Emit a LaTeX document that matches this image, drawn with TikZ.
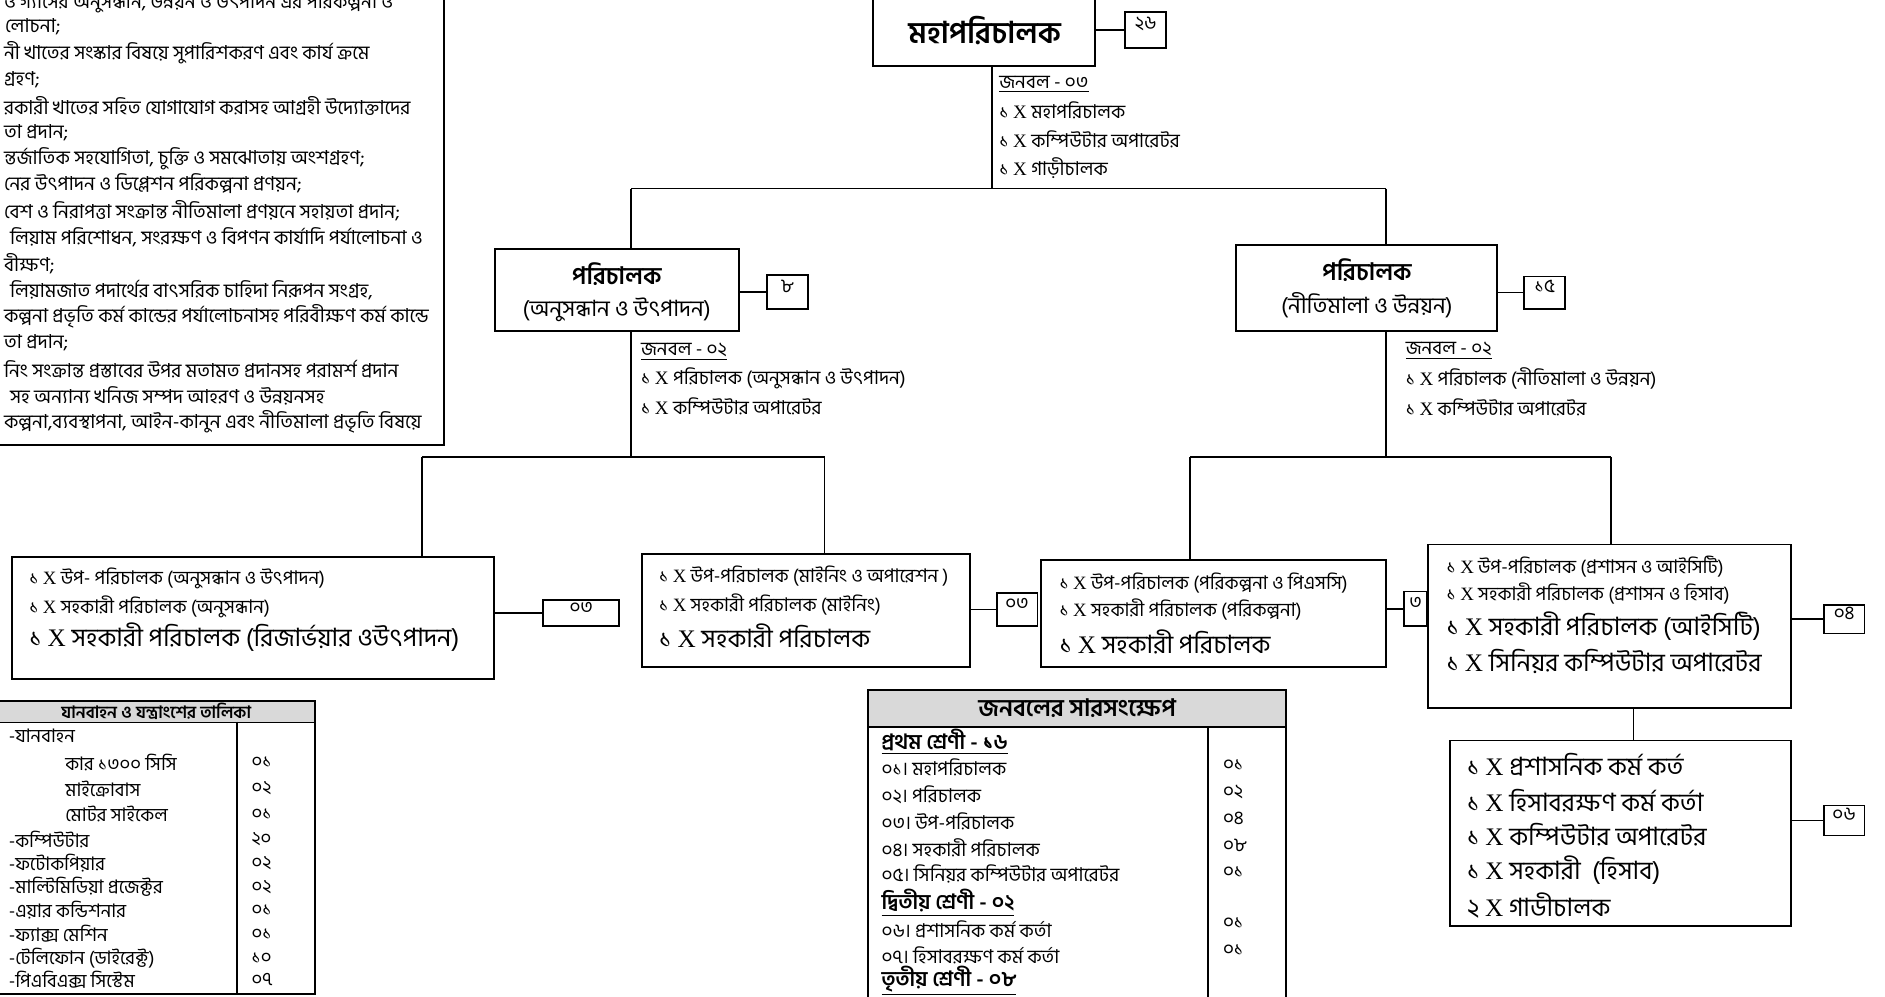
\documentclass[tikz,border=0pt]{standalone}
\usepackage{fontspec}
\setmainfont[Script=Bengali]{Hind Siliguri}
\newfontfamily\lat{Liberation Serif}
\usetikzlibrary{fit}
\newcommand\XX{{\lat X}}
\newcommand\fA{\fontsize{9.6}{12}\selectfont}
\newcommand\fJ{\fontsize{9.5}{11}\selectfont}
\newcommand\fS{\fontsize{9.4}{11}\selectfont}
\newcommand\fL{\fontsize{12.6}{14}\selectfont}
\newcommand\fT{\fontsize{9.3}{10}\selectfont}
\tikzset{
  box/.style={draw, line width=0.9pt, inner sep=0pt},
  ln/.style={line width=0.7pt},
  tl/.style={anchor=west, inner sep=0pt},
  tc/.style={anchor=center, inner sep=0pt},
}
\begin{document}
\begin{tikzpicture}[x=0.6pt,y=-0.6pt]
\useasboundingbox (0,0) rectangle (1568,829);
\clip (0,0) rectangle (1568,829);

% ---------- top-left functions box ----------
\node[box, fit={(-10,-10)(369,370)}] (fn) {};
\node[tl, font=\fA] (f1) at (3,2) {ও গ্যাসের অনুসন্ধান, উন্নয়ন ও উৎপাদন এর পরিকল্পনা ও};
\node[tl, font=\fA] (f2) at (4,22) {লোচনা;};
\node[tl, font=\fA] (f3) at (3,44) {নী খাতের সংস্কার বিষয়ে সুপারিশকরণ এবং কার্য ক্রমে};
\node[tl, font=\fA] (f4) at (3,66) {গ্রহণ;};
\node[tl, font=\fA] (f5) at (3,88) {রকারী খাতের সহিত যোগাযোগ করাসহ আগ্রহী উদ্যোক্তাদের};
\node[tl, font=\fA] (f6) at (3,110) {তা প্রদান;};
\node[tl, font=\fA] (f7) at (3,132) {ন্তর্জাতিক সহযোগিতা, চুক্তি ও সমঝোতায় অংশগ্রহণ;};
\node[tl, font=\fA] (f8) at (3,153) {নের উৎপাদন ও ডিপ্লেশন পরিকল্পনা প্রণয়ন;};
\node[tl, font=\fA] (f9) at (3,175) {বেশ ও নিরাপত্তা সংক্রান্ত নীতিমালা প্রণয়নে সহায়তা প্রদান;};
\node[tl, font=\fA] (f10) at (8,197) {লিয়াম পরিশোধন, সংরক্ষণ ও বিপণন কার্যাদি পর্যালোচনা ও};
\node[tl, font=\fA] (f11) at (3,219) {বীক্ষণ;};
\node[tl, font=\fA] (f12) at (8,241) {লিয়ামজাত পদার্থের বাৎসরিক চাহিদা নিরূপন সংগ্রহ,};
\node[tl, font=\fA] (f13) at (3,263) {কল্পনা প্রভৃতি কর্ম কান্ডের পর্যালোচনাসহ পরিবীক্ষণ কর্ম কান্ডে};
\node[tl, font=\fA] (f14) at (3,285) {তা প্রদান;};
\node[tl, font=\fA] (f15) at (3,307) {নিং সংক্রান্ত প্রস্তাবের উপর মতামত প্রদানসহ পরামর্শ প্রদান};
\node[tl, font=\fA] (f16) at (8,329) {সহ অন্যান্য খনিজ সম্পদ আহরণ ও উন্নয়নসহ};
\node[tl, font=\fA] (f17) at (3,351) {কল্পনা,ব্যবস্থাপনা, আইন-কানুন এবং নীতিমালা প্রভৃতি বিষয়ে};

% ---------- Director General ----------
\node[box, fit={(726,-3)(911,55)}] (dg) {};
\node[tc, font=\fontsize{15}{17}\selectfont\bfseries] (dgt) at (819,25) {মহাপরিচালক};
\node[box, fit={(936,10)(970,40)}, font=\fJ] (c26) {২৬};
\draw[ln] (c26.west) -- (c26.west -| dg.east);
\node[tl, font=\fJ] (j01) at (831,70) {\underline{জনবল - ০৩}};
\node[tl, font=\fJ] (j02) at (831,92) {১ \XX\ মহাপরিচালক};
\node[tl, font=\fJ] (j03) at (831,116) {১ \XX\ কম্পিউটার অপারেটর};
\node[tl, font=\fJ] (j04) at (831,140) {১ \XX\ গাড়ীচালক};

% ---------- Directors ----------
\node[box, fit={(412,207)(615,275)}] (d1) {};
\node[tc, font=\fontsize{12}{14}\selectfont\bfseries] (d1a) at (513,228) {পরিচালক};
\node[tc, font=\fontsize{11.2}{13}\selectfont] (d1b) at (513,258) {(অনুসন্ধান ও উৎপাদন)};
\node[box, fit={(638,229)(672,257)}, font=\fJ] (c8) {৮};
\draw[ln] (c8.west) -- (c8.west -| d1.east);
\node[tl, font=\fJ] (j11) at (533,293) {\underline{জনবল - ০২}};
\node[tl, font=\fJ] (j12) at (533,315) {১ \XX\ পরিচালক (অনুসন্ধান ও উৎপাদন)};
\node[tl, font=\fJ] (j13) at (533,338) {১ \XX\ কম্পিউটার অপারেটর};

\node[box, fit={(1028,204)(1245,275)}] (d2) {};
\node[tc, font=\fontsize{12}{14}\selectfont\bfseries] (d2a) at (1137,225) {পরিচালক};
\node[tc, font=\fontsize{11.2}{13}\selectfont] (d2b) at (1137,254) {(নীতিমালা ও উন্নয়ন)};
\node[box, fit={(1268,230)(1302,257)}, font=\fJ] (c15) {১৫};
\draw[ln] (c15.west) -- (c15.west -| d2.east);
\node[tl, font=\fJ] (j21) at (1169,292) {\underline{জনবল - ০২}};
\node[tl, font=\fJ] (j22) at (1169,315) {১ \XX\ পরিচালক (নীতিমালা ও উন্নয়ন)};
\node[tl, font=\fJ] (j23) at (1169,339) {১ \XX\ কম্পিউটার অপারেটর};

% tree from DG
\coordinate (j0) at (825,157);
\coordinate (jL) at (525,157);
\coordinate (jR) at (1153,157);
\draw[ln] (j0 |- dg.south) -- (j0);
\draw[ln] (jL) -- (jR);
\draw[ln] (jL) -- (jL |- d1.north);
\draw[ln] (jR) -- (jR |- d2.north);

% ---------- Bottom boxes ----------
\node[box, fit={(10,463)(411,565)}] (bA) {};
\node[tl, font=\fS] (a1) at (24,481) {১ \XX\ উপ- পরিচালক (অনুসন্ধান ও উৎপাদন)};
\node[tl, font=\fS] (a2) at (24,505) {১ \XX\ সহকারী পরিচালক (অনুসন্ধান)};
\node[tl, font=\fL] (a3) at (24,530) {১ \XX\ সহকারী পরিচালক (রিজার্ভয়ার ওউৎপাদন)};
\node[box, fit={(452,499)(515,521)}, font=\fJ] (cA) {০৩};
\draw[ln] (cA.west) -- (cA.west -| bA.east);

\node[box, fit={(534,461)(807,555)}] (bB) {};
\node[tl, font=\fS] (b1) at (548,479) {১ \XX\ উপ-পরিচালক (মাইনিং ও অপারেশন )};
\node[tl, font=\fS] (b2) at (548,503) {১ \XX\ সহকারী পরিচালক (মাইনিং)};
\node[tl, font=\fL] (b3) at (548,529) {১ \XX\ সহকারী পরিচালক};
\node[box, fit={(829,493)(863,521)}, font=\fJ] (cB) {০৩};
\draw[ln] (cB.west) -- (cB.west -| bB.east);

\node[box, fit={(866,466)(1153,555)}] (bC) {};
\node[tl, font=\fS] (cc1) at (881,485) {১ \XX\ উপ-পরিচালক (পরিকল্পনা ও পিএসসি)};
\node[tl, font=\fS] (cc2) at (881,507) {১ \XX\ সহকারী পরিচালক (পরিকল্পনা)};
\node[tl, font=\fL] (cc3) at (881,534) {১ \XX\ সহকারী পরিচালক};
\node[box, fit={(1168,492)(1187,521)}, font=\fJ] (cC) {৩};
\draw[ln] (cC.west) -- (cC.west -| bC.east);

\node[box, fit={(1188,453)(1490,589)}] (bD) {};
\node[tl, font=\fS] (dd1) at (1203,471) {১ \XX\ উপ-পরিচালক (প্রশাসন ও আইসিটি)};
\node[tl, font=\fS] (dd2) at (1203,494) {১ \XX\ সহকারী পরিচালক (প্রশাসন ও হিসাব)};
\node[tl, font=\fL] (dd3) at (1203,521) {১ \XX\ সহকারী পরিচালক (আইসিটি)};
\node[tl, font=\fL] (dd4) at (1203,550) {১ \XX\ সিনিয়র কম্পিউটার অপারেটর};
\node[box, fit={(1517,503)(1551,527)}, font=\fJ] (cD) {০৪};
\draw[ln] (cD.west) -- (cD.west -| bD.east);

\node[box, fit={(1206,616)(1490,770)}] (bE) {};
\node[tl, font=\fL] (e1) at (1220,636) {১ \XX\ প্রশাসনিক কর্ম কর্ত};
\node[tl, font=\fL] (e2) at (1220,666) {১ \XX\ হিসাবরক্ষণ কর্ম কর্তা};
\node[tl, font=\fL] (e3) at (1220,694) {১ \XX\ কম্পিউটার অপারেটর};
\node[tl, font=\fL] (e4) at (1220,724) {১ \XX\ সহকারী\ \ (হিসাব)};
\node[tl, font=\fL] (e5) at (1220,753) {২ \XX\ গাডীচালক};
\node[box, fit={(1517,670)(1551,695)}, font=\fJ] (cE) {০৬};
\draw[ln] (cE.west) -- (cE.west -| bE.east);

% tree lower left
\coordinate (k1) at (525,380);
\coordinate (kL) at (351,380);
\coordinate (kR) at (686,380);
\draw[ln] (k1 |- d1.south) -- (k1);
\draw[ln] (kL) -- (kR);
\draw[ln] (kL) -- (kL |- bA.north);
\draw[ln] (kR) -- (kR |- bB.north);
% tree lower right
\coordinate (k2) at (1153,380);
\coordinate (mL) at (990,380);
\coordinate (mR) at (1340,380);
\draw[ln] (k2 |- d2.south) -- (k2);
\draw[ln] (mL) -- (mR);
\draw[ln] (mL) -- (mL |- bC.north);
\draw[ln] (mR) -- (mR |- bD.north);
\coordinate (n1) at (1359,600);
\draw[ln] (n1 |- bD.south) -- (n1 |- bE.north);

% ---------- vehicle table ----------
\node[box, fill=black!15, fit={(-5,583)(262,601)}] (vh) {};
\node[tc, font=\fontsize{8.5}{10}\selectfont\bfseries] (vht) at (130,592) {যানবাহন ও যন্ত্রাংশের তালিকা};
\node[box, fit={(-5,601)(262,827)}] (vb) {};
\draw[line width=0.9pt] (197,0 |- vb.north) -- (197,0 |- vb.south);
\node[tl, font=\fT] (v1) at (7,612) {-যানবাহন};
\node[tl, font=\fT] (v2) at (54,634) {কার ১৩০০ সিসি};
\node[tl, font=\fT] (v3) at (54,656) {মাইক্রোবাস};
\node[tl, font=\fT] (v4) at (54,677) {মোটর সাইকেল};
\node[tl, font=\fT] (v5) at (7,698) {-কম্পিউটার};
\node[tl, font=\fT] (v6) at (7,718) {-ফটোকপিয়ার};
\node[tl, font=\fT] (v7) at (7,738) {-মাল্টিমিডিয়া প্রজেক্টর};
\node[tl, font=\fT] (v8) at (7,757) {-এয়ার কন্ডিশনার};
\node[tl, font=\fT] (v9) at (7,777) {-ফ্যাক্স মেশিন};
\node[tl, font=\fT] (v10) at (7,797) {-টেলিফোন (ডাইরেক্ট)};
\node[tl, font=\fT] (v11) at (7,815) {-পিএবিএক্স সিস্টেম};
\node[tl, font=\fT] (w2) at (209,634) {০১};
\node[tl, font=\fT] (w3) at (209,656) {০২};
\node[tl, font=\fT] (w4) at (209,677) {০১};
\node[tl, font=\fT] (w5) at (209,698) {২০};
\node[tl, font=\fT] (w6) at (209,718) {০২};
\node[tl, font=\fT] (w7) at (209,738) {০২};
\node[tl, font=\fT] (w8) at (209,757) {০১};
\node[tl, font=\fT] (w9) at (209,777) {০১};
\node[tl, font=\fT] (w10) at (209,797) {১০};
\node[tl, font=\fT] (w11) at (209,815) {০৭};

% ---------- manpower summary ----------
\node[box, fill=black!15, fit={(722,574)(1070,605)}] (sh) {};
\node[tc, font=\fontsize{12}{14}\selectfont\bfseries] (sht) at (896,589) {জনবলের সারসংক্ষেপ};
\node[box, fit={(722,605)(1070,840)}] (sb) {};
\draw[line width=0.9pt] (1005,0 |- sb.north) -- (1005,0 |- sb.south);
\node[tl, font=\fontsize{10.5}{12}\selectfont\bfseries] (s0) at (733,617) {\underline{প্রথম শ্রেণী - ১৬}};
\node[tl, font=\fJ] (s1) at (733,638) {০১। মহাপরিচালক};
\node[tl, font=\fJ] (s2) at (733,661) {০২। পরিচালক};
\node[tl, font=\fJ] (s3) at (733,683) {০৩। উপ-পরিচালক};
\node[tl, font=\fJ] (s4) at (733,705) {০৪। সহকারী পরিচালক};
\node[tl, font=\fJ] (s5) at (733,727) {০৫। সিনিয়র কম্পিউটার অপারেটর};
\node[tl, font=\fontsize{10.5}{12}\selectfont\bfseries] (s6) at (733,751) {\underline{দ্বিতীয় শ্রেণী - ০২}};
\node[tl, font=\fJ] (s7) at (733,773) {০৬। প্রশাসনিক কর্ম কর্তা};
\node[tl, font=\fJ] (s8) at (733,795) {০৭। হিসাবরক্ষণ কর্ম কর্তা};
\node[tl, font=\fontsize{10.5}{12}\selectfont\bfseries] (s9) at (733,816) {\underline{তৃতীয় শ্রেণী - ০৮}};
\node[tl, font=\fJ] (t1) at (1017,636) {০১};
\node[tl, font=\fJ] (t2) at (1017,659) {০২};
\node[tl, font=\fJ] (t3) at (1017,681) {০৪};
\node[tl, font=\fJ] (t4) at (1017,703) {০৮};
\node[tl, font=\fJ] (t5) at (1017,725) {০১};
\node[tl, font=\fJ] (t7) at (1017,768) {০১};
\node[tl, font=\fJ] (t8) at (1017,790) {০১};
\end{tikzpicture}
\end{document}
